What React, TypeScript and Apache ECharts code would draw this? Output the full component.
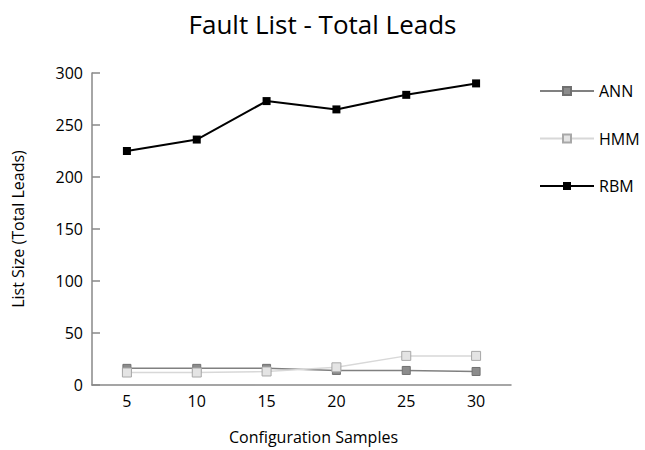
import React, { useEffect, useRef } from "react";
import * as echarts from "echarts";

const categories = ["5", "10", "15", "20", "25", "30"];
const annValues = [16, 16, 16, 14, 14, 13];
const hmmValues = [12, 12, 13, 17, 28, 28];
const rbmValues = [225, 236, 273, 265, 279, 290];
const yTicks = [0, 50, 100, 150, 200, 250, 300];

const FONT = "Open Sans";

export default function App() {
  const ref = useRef<HTMLDivElement>(null);
  useEffect(() => {
    if (!ref.current) return;
    const chart = echarts.init(ref.current, null, { renderer: "svg" });
    chart.setOption({
      animation: false,
      backgroundColor: "#ffffff",
      textStyle: { fontFamily: FONT },
      title: {
        text: "Fault List - Total Leads",
        left: "center",
        top: 6,
        textStyle: { fontFamily: FONT, fontSize: 26, fontWeight: "normal", color: "#000" },
      },
      legend: {
        orient: "vertical",
        left: 534,
        top: 78,
        itemWidth: 54,
        itemHeight: 10,
        itemGap: 31.5,
        textStyle: { fontFamily: FONT, fontSize: 16, color: "#000" },
        data: ["ANN", "HMM", "RBM"],
      },
      grid: { left: 92, right: 134, top: 73, bottom: 62, containLabel: false },
      xAxis: {
        type: "category",
        data: categories,
        boundaryGap: true,
        name: "Configuration Samples",
        nameLocation: "middle",
        nameGap: 44,
        nameTextStyle: { fontFamily: FONT, fontSize: 16, color: "#000", padding: [0, 0, 0, 24] },
        axisLine: { lineStyle: { color: "#888", width: 1.5 } },
        axisTick: { inside: true, length: 7, lineStyle: { color: "#888", width: 1.5 } },
        axisLabel: { fontFamily: FONT, fontSize: 16, color: "#000", margin: 8 },
        splitLine: { show: false },
      },
      yAxis: {
        type: "value",
        min: 0,
        max: 300,
        interval: 50,
        name: "List Size (Total Leads)",
        nameLocation: "middle",
        nameGap: 66,
        nameRotate: 90,
        nameTextStyle: { fontFamily: FONT, fontSize: 16, color: "#000" },
        axisLine: { show: true, lineStyle: { color: "#888", width: 1.5 } },
        axisTick: { show: true, inside: true, length: 8, lineStyle: { color: "#888", width: 1.5 } },
        axisLabel: { fontFamily: FONT, fontSize: 16, color: "#000", margin: 9, customValues: yTicks },
        splitLine: { show: false },
      },
      series: [
        {
          name: "ANN",
          type: "line",
          data: annValues,
          symbol: "rect",
          symbolSize: 8,
          lineStyle: { color: "#808080", width: 1.5 },
          itemStyle: { color: "#8c8c8c", borderColor: "#707070", borderWidth: 1 },
        },
        {
          name: "HMM",
          type: "line",
          data: hmmValues,
          symbol: "rect",
          symbolSize: 9,
          lineStyle: { color: "#d8d8d8", width: 1.5 },
          itemStyle: { color: "#e4e4e4", borderColor: "#a8a8a8", borderWidth: 1 },
        },
        {
          name: "RBM",
          type: "line",
          data: rbmValues,
          symbol: "rect",
          symbolSize: 8,
          lineStyle: { color: "#000", width: 2 },
          itemStyle: { color: "#000", borderColor: "#000", borderWidth: 0 },
        },
      ],
    });
    return () => chart.dispose();
  }, []);
  return <div ref={ref} style={{ width: 645, height: 450, position: "absolute", left: 0, top: 0 }} />;
}
